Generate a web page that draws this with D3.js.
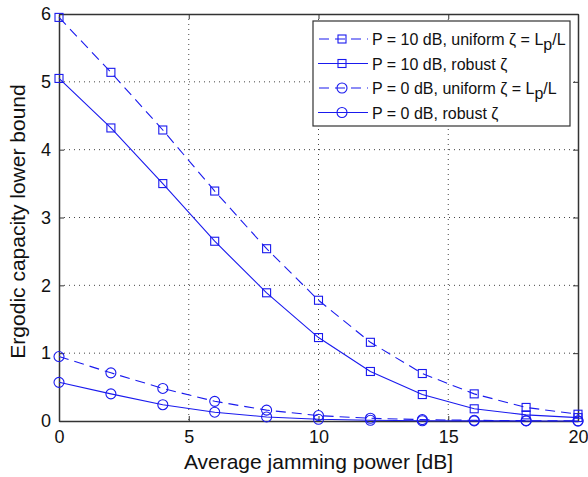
<!DOCTYPE html>
<html>
<head>
<meta charset="utf-8">
<script src="https://cdn.jsdelivr.net/npm/d3@7"></script>
<style>
  body { margin: 0; background: #fff; }
  text { font-family: "Liberation Sans", Arial, sans-serif; }
</style>
</head>
<body>
<div id="chart"></div>
<script>
// jamming power (dB)
const jamPower = [0, 2, 4, 6, 8, 10, 12, 14, 16, 18, 20];

// ergodic capacity lower bound, one array per curve
const p10Uniform = [5.95, 5.14, 4.29, 3.39, 2.54, 1.78, 1.16, 0.70, 0.40, 0.20, 0.10];
const p10Robust  = [5.05, 4.32, 3.50, 2.65, 1.89, 1.23, 0.73, 0.39, 0.18, 0.09, 0.05];
const p0Uniform  = [0.95, 0.71, 0.48, 0.29, 0.16, 0.08, 0.04, 0.02, 0.01, 0.005, 0.002];
const p0Robust   = [0.57, 0.40, 0.24, 0.13, 0.06, 0.025, 0.01, 0.004, 0.002, 0.001, 0.0];

const xTicks = [0, 5, 10, 15, 20];
const yTicks = [0, 1, 2, 3, 4, 5, 6];

const series = [
  {values: p10Uniform, marker: 'square', dashed: true,  label: ['P = 10 dB, uniform ζ = L', 'p', '/L']},
  {values: p10Robust,  marker: 'square', dashed: false, label: ['P = 10 dB, robust ζ']},
  {values: p0Uniform,  marker: 'circle', dashed: true,  label: ['P = 0 dB, uniform ζ = L', 'p', '/L']},
  {values: p0Robust,   marker: 'circle', dashed: false, label: ['P = 0 dB, robust ζ']}
];

const width = 588, height = 477;
const margin = {top: 14, right: 10, bottom: 56, left: 59};
const innerW = width - margin.left - margin.right;
const innerH = height - margin.top - margin.bottom;
const blue = '#1a1aee';
const axisColor = '#333';

const svg = d3.select('#chart').append('svg')
    .attr('width', width)
    .attr('height', height);

const chart = svg.append('g')
    .attr('transform', `translate(${margin.left},${margin.top})`);

const x = d3.scaleLinear().domain([0, 20]).range([0, innerW]);
const y = d3.scaleLinear().domain([0, 6]).range([innerH, 0]);

// dotted grid
chart.selectAll('.grid-x')
    .data(xTicks.slice(1, -1))
  .join('line')
    .attr('x1', d => x(d)).attr('x2', d => x(d))
    .attr('y1', 0).attr('y2', innerH)
    .attr('stroke', '#444').attr('stroke-width', 1)
    .attr('stroke-dasharray', '1,4');

chart.selectAll('.grid-y')
    .data(yTicks.slice(1, -1))
  .join('line')
    .attr('y1', d => y(d)).attr('y2', d => y(d))
    .attr('x1', 0).attr('x2', innerW)
    .attr('stroke', '#444').attr('stroke-width', 1)
    .attr('stroke-dasharray', '1,4');

// axes (ticks inside, like matlab)
const fmt = d3.format('d');
const xAxis = d3.axisBottom(x).tickValues(xTicks).tickFormat(fmt).tickSizeInner(-5).tickSizeOuter(0).tickPadding(9);
const yAxis = d3.axisLeft(y).tickValues(yTicks).tickFormat(fmt).tickSizeInner(-5).tickSizeOuter(0).tickPadding(8);

const gx = chart.append('g').attr('transform', `translate(0,${innerH})`).call(xAxis);
const gy = chart.append('g').call(yAxis);
const gxTop = chart.append('g').call(d3.axisTop(x).tickValues(xTicks).tickSize(-5).tickSizeOuter(0).tickFormat(''));
const gyRight = chart.append('g').attr('transform', `translate(${innerW},0)`)
    .call(d3.axisRight(y).tickValues(yTicks).tickSize(-5).tickSizeOuter(0).tickFormat(''));

[gx, gy, gxTop, gyRight].forEach(g => {
  g.select('.domain').attr('stroke', axisColor).attr('stroke-width', 1.5);
  g.selectAll('.tick line').attr('stroke', axisColor);
  g.selectAll('.tick text').attr('fill', '#111').style('font-size', '18px')
      .style('font-family', '"Liberation Sans", Arial, sans-serif');
});

// axis titles
svg.append('text')
    .attr('x', margin.left + innerW / 2)
    .attr('y', 469)
    .attr('text-anchor', 'middle')
    .style('font-size', '21px')
    .attr('fill', '#111')
    .text('Average jamming power [dB]');

svg.append('text')
    .attr('transform', `translate(25,${margin.top + innerH / 2 + 4}) rotate(-90)`)
    .attr('text-anchor', 'middle')
    .style('font-size', '21px')
    .attr('fill', '#111')
    .text('Ergodic capacity lower bound');

// curves
const line = d3.line()
    .x((d, i) => x(jamPower[i]))
    .y(d => y(d));

function drawMarker(g, type, cx, cy) {
  if (type === 'square') {
    g.append('rect')
        .attr('x', cx - 4).attr('y', cy - 4)
        .attr('width', 8).attr('height', 8)
        .attr('fill', 'none').attr('stroke', blue).attr('stroke-width', 1.1);
  } else {
    g.append('circle')
        .attr('cx', cx).attr('cy', cy).attr('r', 5)
        .attr('fill', 'none').attr('stroke', blue).attr('stroke-width', 1.1);
  }
}

series.forEach(s => {
  chart.append('path')
      .datum(s.values)
      .attr('d', line)
      .attr('fill', 'none')
      .attr('stroke', blue)
      .attr('stroke-width', 1.1)
      .attr('stroke-dasharray', s.dashed ? '10,6' : null);
  const mg = chart.append('g');
  s.values.forEach((v, i) => drawMarker(mg, s.marker, x(jamPower[i]), y(v)));
});

// legend
const legend = svg.append('g').attr('transform', 'translate(313,21)');
legend.append('rect')
    .attr('width', 257).attr('height', 105)
    .attr('fill', '#fff').attr('stroke', axisColor).attr('stroke-width', 1.2);

series.forEach((s, i) => {
  const ly = 18 + i * 24.5;
  const row = legend.append('g');
  row.append('line')
      .attr('x1', 5).attr('x2', 55).attr('y1', ly).attr('y2', ly)
      .attr('stroke', blue).attr('stroke-width', 1.1)
      .attr('stroke-dasharray', s.dashed ? '10,6' : null)
      .attr('stroke-dashoffset', s.dashed ? -1 : null);
  drawMarker(row, s.marker, 29, ly);
  const t = row.append('text')
      .attr('x', 59).attr('y', ly + 6)
      .style('font-size', '16px')
      .attr('fill', '#111');
  t.append('tspan').text(s.label[0]);
  if (s.label.length > 1) {
    t.append('tspan').attr('dy', 5).text(s.label[1]);
    t.append('tspan').attr('dy', -5).text(s.label[2]);
  }
});
</script>
</body>
</html>
